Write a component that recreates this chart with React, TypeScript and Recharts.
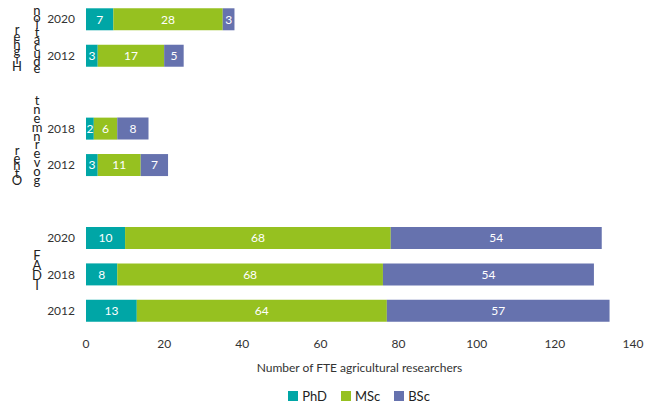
import React from "react";
import { BarChart, Bar, XAxis, YAxis, LabelList, Legend } from "recharts";

// one row per bar, blank rows split the three institution groups
const rowKeys = ["HE-2020", "HE-2012", "gap-1", "OG-2018", "OG-2012", "gap-2", "FAD-2020", "FAD-2018", "FAD-2012"];
const years = ["2020", "2012", "", "2018", "2012", "", "2020", "2018", "2012"];
const phd = [7, 3, null, 2, 3, null, 10, 8, 13];
const msc = [28, 17, null, 6, 11, null, 68, 68, 64];
const bsc = [3, 5, null, 8, 7, null, 54, 54, 57];
const xTicks = [0, 20, 40, 60, 80, 100, 120, 140];

const SERIES = [
  { key: "phd", name: "PhD", color: "#00A6A6" },
  { key: "msc", name: "MSc", color: "#96C120" },
  { key: "bsc", name: "BSc", color: "#6672AE" },
];

// group captions, letters stacked one under another
const groupLabels = [
  { text: "rehgiH", x: 17, bottom: 66, step: 7.5 },
  { text: "noitacude", x: 37, bottom: 68, step: 7.3 },
  { text: "rehtO", x: 17, bottom: 180, step: 7.5 },
  { text: "tnemnrevog", x: 37, bottom: 180, step: 8.9 },
  { text: "FADI", x: 37, bottom: 285, step: 10 },
];

const FONT = "Lato, 'Open Sans', sans-serif";

const data = rowKeys.map((k, i) => ({
  key: k,
  year: years[i],
  phd: phd[i],
  msc: msc[i],
  bsc: bsc[i],
}));

const yearLabel = (k: string) => data.find((d) => d.key === k)?.year ?? "";

function LegendBox() {
  return (
    <div style={{ display: "flex", justifyContent: "center", gap: 14, fontFamily: FONT, fontSize: 13, lineHeight: "18px", color: "#222" }}>
      {SERIES.map((s) => (
        <div key={s.key} style={{ display: "flex", alignItems: "center", gap: 4 }}>
          <span style={{ width: 10, height: 10, background: s.color, display: "inline-block" }} />
          <span>{s.name}</span>
        </div>
      ))}
    </div>
  );
}

export default function App() {
  return (
    <div style={{ position: "absolute", left: 0, top: 0, width: 657, height: 406, background: "#fff" }}>
      <BarChart
        width={657}
        height={406}
        data={data}
        layout="vertical"
        margin={{ top: 1, right: 24, left: 0, bottom: 1 }}
        barCategoryGap="20%"
      >
        <XAxis
          type="number"
          domain={[0, 140]}
          ticks={xTicks}
          axisLine={false}
          tickLine={false}
          tickMargin={4}
          height={58}
          tick={{ fontSize: 12, fill: "#333", fontFamily: FONT }}
          label={{
            value: "Number of FTE agricultural researchers",
            position: "insideBottom",
            offset: 15,
            style: { fontSize: 12, fill: "#333", fontFamily: FONT },
          }}
        />
        <YAxis
          type="category"
          dataKey="key"
          width={86}
          axisLine={false}
          tickLine={false}
          tickMargin={5}
          interval={0}
          tickFormatter={yearLabel}
          tick={{ fontSize: 12, fill: "#333", fontFamily: FONT }}
        />
        <Legend
          verticalAlign="bottom"
          content={() => <LegendBox />}
          wrapperStyle={{ left: 86, width: 546, bottom: 1 }}
        />
        {SERIES.map((s) => (
          <Bar key={s.key} dataKey={s.key} name={s.name} stackId="a" fill={s.color} isAnimationActive={false}>
            <LabelList
              dataKey={s.key}
              position="center"
              fill="#fff"
              fontSize={12}
              fontFamily={FONT}
              formatter={(v: any) => (v == null ? "" : v)}
            />
          </Bar>
        ))}
      </BarChart>
      <svg width={657} height={406} style={{ position: "absolute", left: 0, top: 0, pointerEvents: "none" }}>
        {groupLabels.map((g) =>
          g.text.split("").map((ch, i) => (
            <text
              key={g.text + i}
              x={g.x}
              y={g.bottom - (g.text.length - 1 - i) * g.step}
              textAnchor="middle"
              dominantBaseline="central"
              fontSize={13}
              fontFamily={FONT}
              fill="#222"
            >
              {ch}
            </text>
          ))
        )}
      </svg>
    </div>
  );
}
